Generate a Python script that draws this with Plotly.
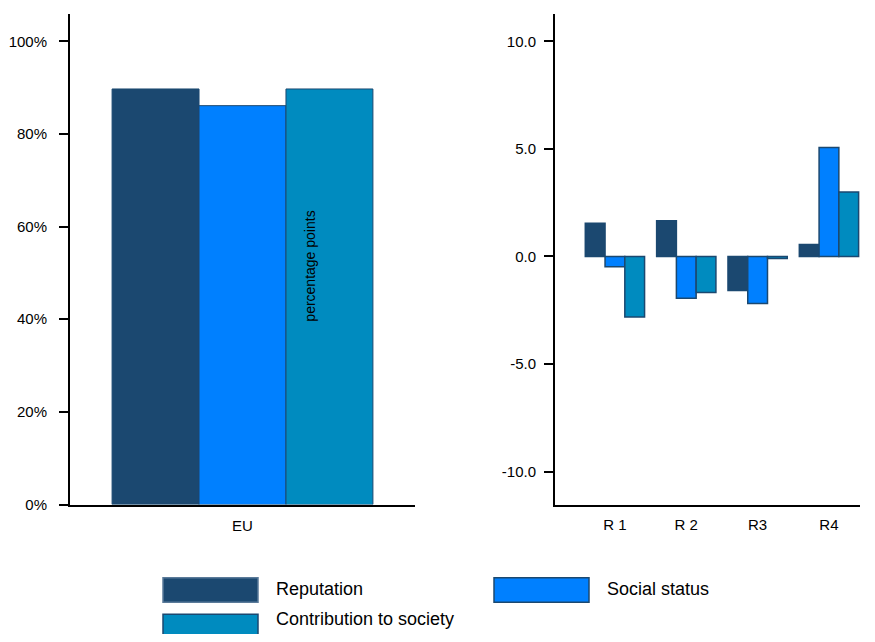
import plotly.graph_objects as go

# ---- data ----
series_names = ["Reputation", "Social status", "Contribution to society"]
series_colors = ["#1B4870", "#0080FF", "#008BBF"]

eu_categories = ["EU"]
eu_reputation = [89.7]
eu_social_status = [86.1]
eu_contribution = [89.7]

region_categories = ["R 1", "R 2", "R3", "R4"]
reg_reputation = [1.54, 1.66, -1.58, 0.56]
reg_social_status = [-0.48, -1.94, -2.19, 5.06]
reg_contribution = [-2.81, -1.68, -0.1, 2.99]

left_ticks = [0, 20, 40, 60, 80, 100]
right_ticks = [-10, -5, 0, 5, 10]

OFF = 8  # page body margin
W, H = 875 - 2 * OFF, 642 - 2 * OFF
FONT = "Liberation Sans, Arial, sans-serif"

fig = go.Figure()

eu_vals = [eu_reputation, eu_social_status, eu_contribution]
reg_vals = [reg_reputation, reg_social_status, reg_contribution]
eu_w = 0.252
reg_w = 0.277
for i, name in enumerate(series_names):
    fig.add_trace(go.Bar(
        x=eu_categories, y=eu_vals[i], name=name, xaxis="x", yaxis="y",
        marker=dict(color=series_colors[i], line=dict(color="#1B4870", width=1)),
        width=eu_w, offset=-1.5 * eu_w + i * eu_w, showlegend=False,
        hoverinfo="x+y+name"))
    fig.add_trace(go.Bar(
        x=region_categories, y=reg_vals[i], name=name, xaxis="x2", yaxis="y2",
        marker=dict(color=series_colors[i], line=dict(color="#1B4870", width=1.5)),
        width=reg_w, offset=-1.5 * reg_w + i * reg_w, showlegend=False,
        hoverinfo="x+y+name"))

axis_common = dict(showline=True, linecolor="black", linewidth=2, showgrid=False,
                   zeroline=False, tickfont=dict(family=FONT, size=15, color="black"))


def px_x(p):
    return (p - OFF) / W


def px_y(p):
    return 1 - (p - OFF) / H


fig.update_layout(
    width=W, height=H, margin=dict(l=0, r=0, t=0, b=0),
    paper_bgcolor="white", plot_bgcolor="white",
    barmode="overlay",
    font=dict(family=FONT, color="black"),
    xaxis=dict(domain=[px_x(70), px_x(415)], anchor="y", type="category",
               range=[-0.5, 0.5], ticks="", ticklabelstandoff=6, **axis_common),
    yaxis=dict(domain=[px_y(511), px_y(14)], anchor="x", range=[0, 105.9],
               tickvals=left_ticks, ticktext=[f"{v}%" for v in left_ticks],
               ticks="outside", ticklen=9, tickwidth=2, tickcolor="black",
               ticklabelstandoff=9, **axis_common),
    xaxis2=dict(domain=[px_x(555), px_x(860)], anchor="y2", type="category",
                range=[-0.84, 3.435], ticks="", ticklabelstandoff=5, **axis_common),
    yaxis2=dict(domain=[px_y(511), px_y(14)], anchor="x2", range=[-11.53, 11.27],
                tickvals=right_ticks, ticktext=[f"{v:.1f}" for v in right_ticks],
                ticks="outside", ticklen=9, tickwidth=2, tickcolor="black",
                ticklabelstandoff=5, **axis_common),
)

# misplaced axis title as in the reference
fig.add_annotation(text="percentage points", xref="paper", yref="paper",
                   x=px_x(310), y=px_y(270), showarrow=False, textangle=-90,
                   font=dict(family=FONT, size=14, color="black"))

# manual legend with large swatches
legend_pos = [(163, 585), (494, 585), (163, 622)]
text_dy = [12, 12, 5]
for i, name in enumerate(series_names):
    x0, y0 = legend_pos[i]
    fig.add_shape(type="rect", xref="paper", yref="paper",
                  x0=px_x(x0), x1=px_x(x0 + 95), y0=px_y(y0 + 25), y1=px_y(y0),
                  fillcolor=series_colors[i],
                  line=dict(color="#1B4870" if i else "#5A7A99", width=1.5))
    fig.add_annotation(text=name, xref="paper", yref="paper",
                       x=px_x(x0 + 111), y=px_y(y0 + text_dy[i]), xanchor="left",
                       yanchor="middle", showarrow=False,
                       font=dict(family=FONT, size=18, color="black"))

fig.write_html("out.html")
